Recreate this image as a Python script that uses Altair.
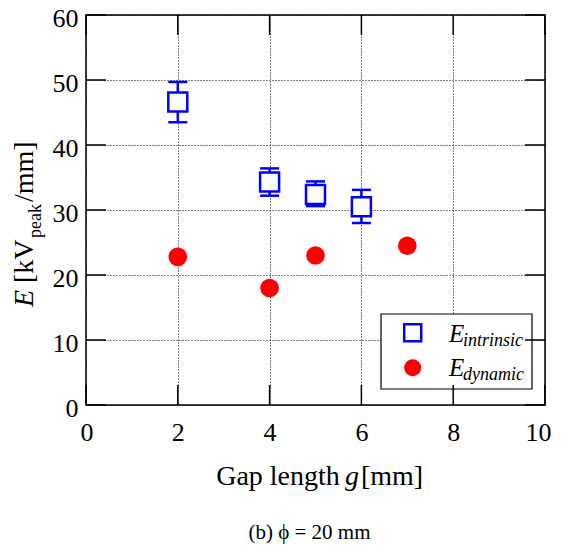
import altair as alt
import pandas as pd

# ---- data ----
gap_intrinsic = [2, 4, 5, 6]
e_intrinsic = [46.6, 34.3, 32.4, 30.5]
e_intrinsic_hi = [49.7, 36.4, 34.4, 33.1]
e_intrinsic_lo = [43.5, 32.2, 30.6, 28.0]
gap_dynamic = [2, 4, 5, 7]
e_dynamic = [22.8, 18.0, 23.0, 24.5]
x_ticks = [0, 2, 4, 6, 8, 10]
y_ticks = [0, 10, 20, 30, 40, 50, 60]

W, H = 459, 390
FONT = "Liberation Serif"
TICK = 20

intr = pd.DataFrame({"g": gap_intrinsic, "e": e_intrinsic,
                     "hi": e_intrinsic_hi, "lo": e_intrinsic_lo})
dyn = pd.DataFrame({"g": gap_dynamic, "e": e_dynamic})
xt = pd.DataFrame({"g": x_ticks})
yt = pd.DataFrame({"e": y_ticks})
one = pd.DataFrame({"a": [0]})

xs = alt.Scale(domain=[0, 10], nice=False, zero=False)
ys = alt.Scale(domain=[0, 60], nice=False, zero=False)

x_axis = alt.Axis(values=x_ticks, tickSize=0, grid=True, labelPadding=14,
                  domain=False, title=None, labelFlush=True,
                  labelFlushOffset=6)
y_axis = alt.Axis(values=y_ticks, tickSize=0, grid=True, labelPadding=8,
                  domain=False, title=None, labelFlush=False, labelOffset=3)

X = alt.X("g:Q", scale=xs, axis=x_axis)
Y = alt.Y("e:Q", scale=ys, axis=y_axis)

# inward ticks on all four sides
tk = dict(color="black", strokeWidth=1.5)
xt_bot = alt.Chart(xt).mark_rule(**tk).encode(
    x=X, y=alt.value(H), y2=alt.value(H - TICK))
xt_top = alt.Chart(xt).mark_rule(**tk).encode(
    x=X, y=alt.value(0), y2=alt.value(TICK))
yt_left = alt.Chart(yt).mark_rule(**tk).encode(
    y=Y, x=alt.value(0), x2=alt.value(TICK))
yt_right = alt.Chart(yt).mark_rule(**tk).encode(
    y=Y, x=alt.value(W - TICK), x2=alt.value(W))

BLUE = "#0000ff"
RED = "#ff0000"
err = alt.Chart(intr).mark_rule(color=BLUE, strokeWidth=2.5).encode(
    x=X, y=alt.Y("lo:Q", scale=ys, axis=y_axis), y2="hi:Q")
cap_hi = alt.Chart(intr).mark_tick(color=BLUE, orient="horizontal", size=19,
                                   thickness=2.5, opacity=1).encode(
    x=X, y=alt.Y("hi:Q", scale=ys, axis=y_axis))
cap_lo = alt.Chart(intr).mark_tick(color=BLUE, orient="horizontal", size=19,
                                   thickness=2.5, opacity=1).encode(
    x=X, y=alt.Y("lo:Q", scale=ys, axis=y_axis))
sq = alt.Chart(intr).mark_point(shape="square", fill="white", stroke=BLUE,
                                strokeWidth=2.5, size=361, opacity=1,
                                fillOpacity=1).encode(x=X, y=Y)
dots = alt.Chart(dyn).mark_circle(color=RED, size=350, opacity=1).encode(
    x=X, y=Y)

# legend drawn inside the plot
leg_box = alt.Chart(one).mark_rect(fill="white", stroke="black",
                                   strokeWidth=1.2).encode(
    x=alt.value(295), x2=alt.value(446), y=alt.value(299), y2=alt.value(374))
leg_sq = alt.Chart(one).mark_point(shape="square", fill="white", stroke=BLUE,
                                   strokeWidth=2.5, size=289, opacity=1,
                                   fillOpacity=1).encode(
    x=alt.value(326.7), y=alt.value(317.7))
leg_dot = alt.Chart(one).mark_circle(color=RED, size=290, opacity=1).encode(
    x=alt.value(326.7), y=alt.value(352.7))


def txt(s, x, y, size, italic=False, align="left", angle=0):
    kw = dict(text=s, font=FONT, fontSize=size, color="black", align=align,
              baseline="alphabetic")
    if italic:
        kw["fontStyle"] = "italic"
    if angle:
        kw["angle"] = angle
    return alt.Chart(one).mark_text(**kw).encode(x=alt.value(x), y=alt.value(y))


leg_txt = [
    txt("E", 363, 326.7, 25, italic=True),
    txt("intrinsic", 377, 331, 18, italic=True),
    txt("E", 363, 361, 25, italic=True),
    txt("dynamic", 377, 365, 18, italic=True),
]

frame = alt.Chart(one).mark_rect(fillOpacity=0, stroke="black",
                                 strokeWidth=1.5).encode(
    x=alt.value(0), x2=alt.value(W), y=alt.value(0), y2=alt.value(H))

# axis titles built from pieces (italic symbols, subscript)
x_title = [
    txt("Gap length", 192, 470, 28, align="center"),
    txt("g", 266, 470, 28, italic=True, align="center"),
    txt("[mm]", 306, 470, 28, align="center"),
]
y_title = [
    txt("E", -53, 292, 28, italic=True, angle=270),
    txt("[kV", -53, 268, 28, angle=270),
    txt("peak", -45, 223, 18, angle=270),
    txt("/mm]", -53, 187, 28, angle=270),
]
subtitle = [txt("(b) \u03d5 = 20 mm", 223.5, 524, 21, align="center")]

chart = alt.layer(
    leg_box,
    err, cap_hi, cap_lo, sq, dots,
    leg_sq, leg_dot, *leg_txt,
    xt_bot, xt_top, yt_left, yt_right, frame,
    *x_title, *y_title, *subtitle,
).properties(
    width=W, height=H,
    autosize=alt.AutoSizeParams(type="none"),
    padding={"left": 78, "top": 7, "right": 8, "bottom": 141},
).configure_view(stroke=None).configure_axis(
    labelFont=FONT, labelFontSize=26, labelColor="black",
    gridColor="black", gridDash=[1, 2], gridWidth=1, gridOpacity=1,
)

chart.save("out.html", embed_options={"renderer": "svg", "actions": False})
